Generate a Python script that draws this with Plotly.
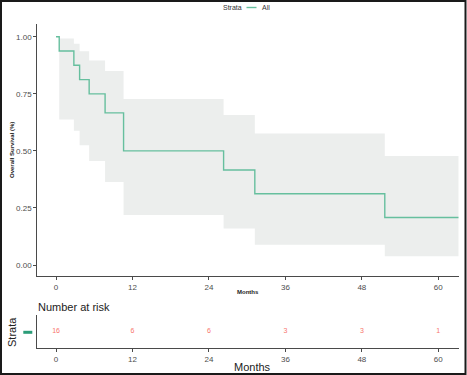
import plotly.graph_objects as go

# ---- data ----
times = [0, 0.5, 2.8, 3.7, 5.2, 7.7, 10.6, 26.3, 31.2, 51.6, 63.2]
surv = [1.0, 0.9375, 0.875, 0.8125, 0.75, 0.6667, 0.5, 0.4167, 0.3125, 0.2083, 0.2083]
upper = [1.0, 0.993, 0.969, 0.937, 0.896, 0.850, 0.727, 0.657, 0.576, 0.478, 0.478]
lower = [1.0, 0.638, 0.588, 0.525, 0.456, 0.364, 0.219, 0.160, 0.089, 0.038, 0.038]

risk_times = [0, 12, 24, 36, 48, 60]
at_risk = [16, 6, 6, 3, 3, 1]

x_ticks = [0, 12, 24, 36, 48, 60]
y_ticks = [0, 0.25, 0.5, 0.75, 1.0]
y_ticktext = ["0.00", "0.25", "0.50", "0.75", "1.00"]

W, H = 467, 375
FONT = "Liberation Sans, Arial, sans-serif"
LINE_COL = "#66bf9e"
BAND_COL = "#eceeed"
AX_COL = "#4a4a4a"
TICK_FONT = dict(family=FONT, size=8, color="#4d4d4d")

def px(x):
    return x / W

def py(y):
    return 1 - y / H

fig = go.Figure()

# confidence band
fig.add_trace(go.Scatter(x=times, y=lower, mode="lines", line=dict(width=0, shape="hv"),
                         hoverinfo="skip", showlegend=False, xaxis="x", yaxis="y"))
fig.add_trace(go.Scatter(x=times, y=upper, mode="lines", line=dict(width=0, shape="hv"),
                         fill="tonexty", fillcolor=BAND_COL, hoverinfo="skip",
                         showlegend=False, xaxis="x", yaxis="y"))
# survival curve
fig.add_trace(go.Scatter(x=times, y=surv, mode="lines",
                         line=dict(color=LINE_COL, width=1.4, shape="hv"),
                         showlegend=False, xaxis="x", yaxis="y"))
# risk table numbers
fig.add_trace(go.Scatter(x=risk_times, y=[0.5] * len(risk_times), mode="text",
                         text=[str(v) for v in at_risk],
                         textfont=dict(family=FONT, size=7, color="#F8766D"),
                         showlegend=False, xaxis="x2", yaxis="y2"))

xdom = [px(37.3), px(458.7)]
xrange = [-2.94, 63.2]

fig.update_layout(
    width=W, height=H,
    margin=dict(l=0, r=0, t=0, b=0),
    paper_bgcolor="white", plot_bgcolor="white",
    font=dict(family=FONT),
    xaxis=dict(domain=xdom, range=xrange, anchor="y", tickvals=x_ticks,
               ticks="outside", ticklen=3, tickcolor=AX_COL, tickfont=TICK_FONT,
               showline=True, linecolor=AX_COL, linewidth=1, showgrid=False,
               zeroline=False),
    yaxis=dict(domain=[py(276), py(24)], range=[-0.048, 1.056], anchor="x",
               tickvals=y_ticks, ticktext=y_ticktext,
               ticks="outside", ticklen=3, tickcolor=AX_COL, tickfont=TICK_FONT,
               showline=True, linecolor=AX_COL, linewidth=1, showgrid=False,
               zeroline=False),
    xaxis2=dict(domain=xdom, range=xrange, anchor="y2", tickvals=x_ticks,
                ticks="outside", ticklen=3, tickcolor=AX_COL, tickfont=TICK_FONT,
                showline=True, linecolor=AX_COL, linewidth=1, showgrid=False,
                zeroline=False),
    yaxis2=dict(domain=[py(348.3), py(315)], range=[0, 1], anchor="x2",
                showticklabels=False, ticks="",
                showline=True, linecolor=AX_COL, linewidth=1, showgrid=False,
                zeroline=False),
)

ann = [
    dict(text="<b>Overall Survival (%)</b>", x=px(12), y=py(150), textangle=-90,
         font=dict(family=FONT, size=6, color="#222")),
    dict(text="<b>Months</b>", x=px(248), y=py(291.5),
         font=dict(family=FONT, size=6, color="#222")),
    dict(text="Number at risk", x=px(36), y=py(306.5), xanchor="left",
         font=dict(family=FONT, size=11, color="#222")),
    dict(text="Strata", x=px(12), y=py(332), textangle=-90,
         font=dict(family=FONT, size=11, color="#222")),
    dict(text="Months", x=px(232), y=py(366.5), xanchor="left",
         font=dict(family=FONT, size=11, color="#222")),
    dict(text="Strata", x=px(243.5), y=py(7.5), xanchor="right",
         font=dict(family=FONT, size=7, color="#333")),
    dict(text="All", x=px(259.5), y=py(7.5), xanchor="left",
         font=dict(family=FONT, size=7, color="#333")),
]
for a in ann:
    a.update(xref="paper", yref="paper", showarrow=False)
    if "xanchor" not in a:
        a["xanchor"] = "center"
    a["yanchor"] = "middle"
fig.update_layout(annotations=ann)

fig.update_layout(shapes=[
    dict(type="line", xref="paper", yref="paper", x0=px(246.5), x1=px(256.5),
         y0=py(7.5), y1=py(7.5), line=dict(color=LINE_COL, width=1.4)),
    dict(type="line", xref="paper", yref="paper", x0=px(23.3), x1=px(32.3),
         y0=py(332.3), y1=py(332.3), line=dict(color="#2b9c78", width=3)),
    dict(type="rect", xref="paper", yref="paper", x0=px(1), x1=px(465.5),
         y0=py(374), y1=py(1), line=dict(color="#1a1a1a", width=2)),
])

fig.write_html(
    "out.html",
    config={"displayModeBar": False},
    post_script="document.body.style.margin='0';document.body.style.padding='0';"
                "document.body.style.overflow='hidden';",
)
